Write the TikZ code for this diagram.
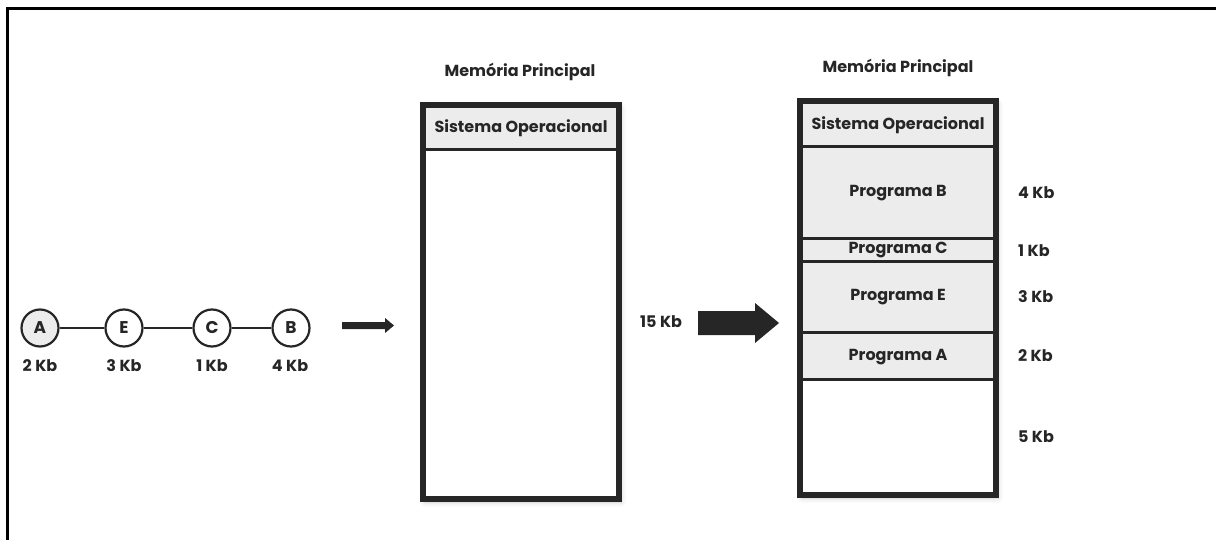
\documentclass[tikz,border=0pt]{standalone}
\usepackage{fontspec}
\setmainfont{Poppins}
\usetikzlibrary{shadows.blur}
\definecolor{ink}{HTML}{262626}
\definecolor{cell}{HTML}{ECECEC}
\definecolor{frameink}{HTML}{000000}
\tikzset{
  lbl/.style={font=\bfseries\fontsize{16}{18}\selectfont, text=ink, inner sep=0pt},
  title/.style={font=\bfseries\fontsize{16}{18}\selectfont, text=ink, inner sep=0pt},
  job/.style={circle, draw=ink, line width=2.2pt, minimum size=37pt, inner sep=0pt,
              fill=white, font=\bfseries\fontsize{17}{19}\selectfont, text=ink},
  link/.style={draw=ink, line width=2.2pt},
  sep/.style={draw=ink, line width=3pt},
  outer/.style={draw=ink, line width=6pt},
  shade/.style={blur shadow={shadow xshift=2pt, shadow yshift=-3pt, shadow opacity=22, shadow blur radius=5pt}},
}
\begin{document}
\begin{tikzpicture}[x=1pt, y=-1pt]
\useasboundingbox (0,0) rectangle (1216,540);
% page frame (top and left edges)
\draw[frameink, line width=3pt] (7,540) -- (7,9) -- (1216,9);

% queue of jobs waiting for memory
\node[job, fill=cell] (A) at (40,328) {A};
\node[job] (E) at (124,328) {E};
\node[job] (C) at (212,328) {C};
\node[job] (B) at (291,328) {B};
\draw[link] (A) -- (E);
\draw[link] (E) -- (C);
\draw[link] (C) -- (B);
\node[lbl] (sA) at (40,366) {2 Kb};
\node[lbl] (sE) at (124,366) {3 Kb};
\node[lbl] (sC) at (212,366) {1 Kb};
\node[lbl] (sB) at (290,366) {4 Kb};

% small arrow into the empty memory
\fill[ink] (342,322) -- (385,322) -- (385,318) -- (394,325.5) -- (385,333) -- (385,329) -- (342,329) -- cycle;

% main memory before allocation
\node[title] (t1) at (520,72) {Memória Principal};
\fill[white, shade] (423,105) rectangle (619,499);
\fill[cell] (423,105) rectangle (619,150);
\draw[sep] (423,150) -- (619,150);
\draw[outer] (423,105) rectangle (619,499);
\node[lbl] (so1) at (521,128) {Sistema Operacional};

% total size and big arrow
\node[lbl, anchor=west] (tot) at (640,322) {15 Kb};
\fill[ink] (698,311) -- (755,311) -- (755,303) -- (779,323) -- (755,343) -- (755,335) -- (698,335) -- cycle;

% main memory after allocation
\node[title] (t2) at (898,68) {Memória Principal};
\fill[white, shade] (800,101) rectangle (996,495);
\fill[cell] (800,101) rectangle (996,379);
\draw[sep] (800,147) -- (996,147);
\draw[sep] (800,239) -- (996,239);
\draw[sep] (800,262) -- (996,262);
\draw[sep] (800,332) -- (996,332);
\draw[sep] (800,379) -- (996,379);
\draw[outer] (800,101) rectangle (996,495);
\node[lbl] (so2) at (898,125) {Sistema Operacional};
\node[lbl] (pB) at (898,193) {Programa B};
\node[lbl] (pC) at (898,250) {Programa C};
\node[lbl] (pE) at (898,297) {Programa E};
\node[lbl] (pA) at (898,357) {Programa A};

% partition sizes
\node[lbl, anchor=west] (kB) at (1018,193) {4 Kb};
\node[lbl, anchor=west] (kC) at (1018,251) {1 Kb};
\node[lbl, anchor=west] (kE) at (1018,297) {3 Kb};
\node[lbl, anchor=west] (kA) at (1018,356) {2 Kb};
\node[lbl, anchor=west] (kF) at (1018,437) {5 Kb};
\end{tikzpicture}
\end{document}
